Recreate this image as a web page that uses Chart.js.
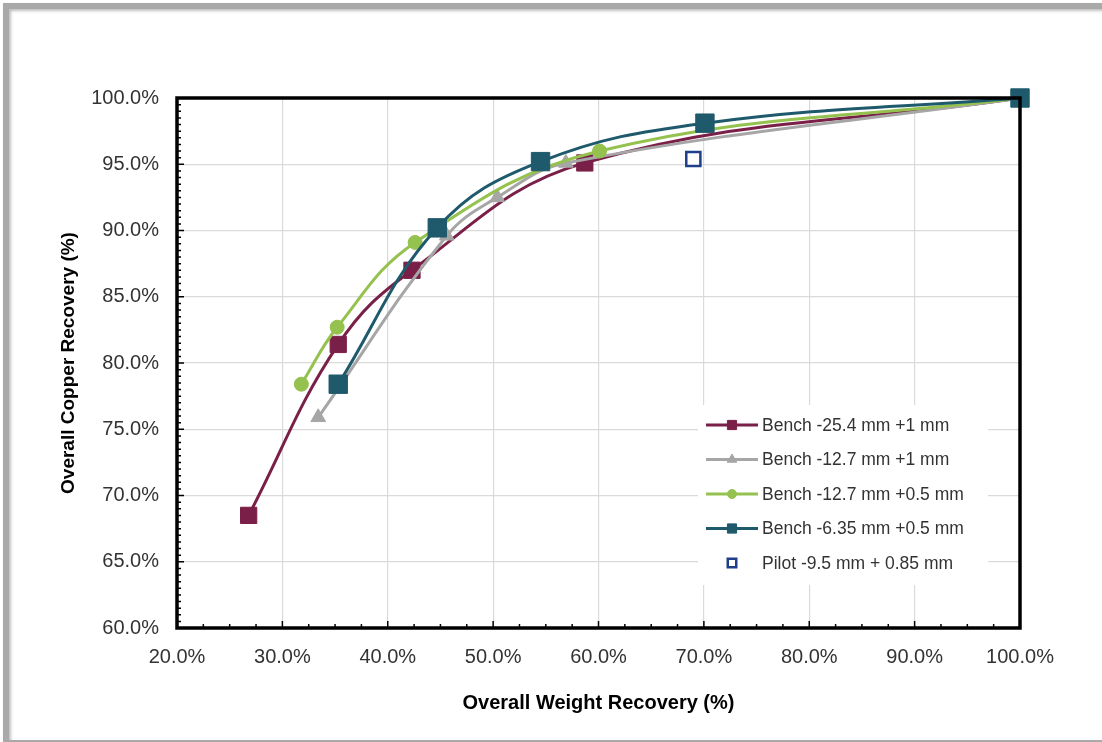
<!DOCTYPE html>
<html>
<head>
<meta charset="utf-8">
<script src="https://cdn.jsdelivr.net/npm/chart.js@4.4.1/dist/chart.umd.min.js"></script>
<style>
  html, body { margin: 0; padding: 0; background: #fff; }
  #wrap { position: relative; width: 1102px; height: 742px; overflow: hidden; }
  #recovery-chart { position: absolute; left: 0; top: 0; }
  #frame {
    position: absolute; left: 3px; top: 3px; width: 1120px; height: 731px;
    border: 6px solid #a9a9a9; box-shadow: inset 2px 2px 3px rgba(0,0,0,0.25), 1px 1px 2px rgba(0,0,0,0.3);
    pointer-events: none;
  }
</style>
</head>
<body>
<div id="wrap">
  <canvas id="recovery-chart" width="1102" height="742"></canvas>
  <div id="frame"></div>
</div>
<script>
// Weight recovery (%) vs copper recovery (%) per test series
const seriesNames = [
    'Bench -25.4 mm +1 mm',
    'Bench -12.7 mm +1 mm',
    'Bench -12.7 mm +0.5 mm',
    'Bench -6.35 mm +0.5 mm',
    'Pilot -9.5 mm + 0.85 mm'
];
const bench254Weight = [26.8, 35.3, 42.3, 58.7, 100];
const bench254Copper = [68.5, 81.4, 87.0, 95.1, 100];
const bench127Weight = [33.4, 45.6, 50.4, 56.9, 100];
const bench127Copper = [75.9, 89.6, 92.5, 95.1, 100];
const bench127fWeight = [31.8, 35.2, 42.6, 60.1, 100];
const bench127fCopper = [78.4, 82.7, 89.1, 96.0, 100];
const bench635Weight = [35.3, 44.7, 54.5, 70.1, 100];
const bench635Copper = [78.4, 90.2, 95.2, 98.1, 100];
const pilotWeight = [69.0];
const pilotCopper = [95.4];

const xTicks = [20, 30, 40, 50, 60, 70, 80, 90, 100];
const yTicks = [60, 65, 70, 75, 80, 85, 90, 95, 100];

function toPoints(xs, ys) {
    return xs.map((x, i) => ({ x: x, y: ys[i] }));
}

const pct = v => v.toFixed(1) + '%';
const fontFamily = '"Liberation Sans", Arial, sans-serif';

// thick border around the plot area plus inward minor/major tick marks
const plotFrame = {
    id: 'plotFrame',
    afterDatasetsDraw(chart) {
        const { ctx, chartArea: a, scales } = chart;
        ctx.save();
        ctx.strokeStyle = '#000';
        ctx.lineWidth = 1.5;
        ctx.beginPath();
        for (let v = 20; v <= 100.01; v += 2.5) {
            const px = scales.x.getPixelForValue(v);
            const len = (Math.abs(v % 10) < 0.01) ? 7 : 4;
            ctx.moveTo(px, a.bottom);
            ctx.lineTo(px, a.bottom - len);
        }
        for (let v = 60; v <= 100.01; v += 0.5) {
            const py = scales.y.getPixelForValue(v);
            const len = (Math.abs(v % 5) < 0.01) ? 7 : 4;
            ctx.moveTo(a.left, py);
            ctx.lineTo(a.left + len, py);
        }
        ctx.stroke();
        ctx.lineWidth = 3.5;
        ctx.strokeRect(a.left, a.top, a.right - a.left, a.bottom - a.top);
        ctx.restore();
    },
    afterDraw(chart) {
        // legend box sitting inside the plot
        const { ctx, chartArea: a } = chart;
        const left = a.left + 529, top = a.top + 307;
        ctx.save();
        ctx.fillStyle = '#fff';
        ctx.fillRect(left - 8, top, 290, 180);
        chart.data.datasets.forEach((ds, i) => {
            const y = top + 20 + i * 34.5;
            if (ds.showLine) {
                ctx.strokeStyle = ds.borderColor;
                ctx.lineWidth = 3;
                ctx.beginPath();
                ctx.moveTo(left, y);
                ctx.lineTo(left + 52, y);
                ctx.stroke();
            }
            ctx.fillStyle = ds.pointBackgroundColor;
            ctx.strokeStyle = ds.pointBorderColor;
            ctx.lineWidth = ds.pointBorderWidth;
            Chart.helpers.drawPoint(ctx, {
                pointStyle: ds.pointStyle,
                radius: ds.legendRadius,
                rotation: 0,
                borderWidth: ds.pointBorderWidth
            }, left + 26, y);
            ctx.fillStyle = '#333';
            ctx.font = '17.5px ' + fontFamily;
            ctx.textBaseline = 'middle';
            ctx.textAlign = 'left';
            ctx.fillText(ds.label, left + 56, y + 1);
        });
        ctx.restore();
    }
};

function benchSeries(label, xs, ys, color, style, radius, legendRadius, order) {
    return {
        label: label,
        data: toPoints(xs, ys),
        showLine: true,
        tension: 0.4,
        borderColor: color,
        borderWidth: 3,
        pointStyle: style,
        pointRadius: radius,
        pointHoverRadius: radius,
        pointBackgroundColor: color,
        pointBorderColor: color,
        pointBorderWidth: 1,
        legendRadius: legendRadius,
        clip: false,
        order: order
    };
}

const datasets = [
    benchSeries(seriesNames[0], bench254Weight, bench254Copper, '#7a1f47', 'rect', 11.5, 6.5, 4),
    benchSeries(seriesNames[1], bench127Weight, bench127Copper, '#a6a6a6', 'triangle', 8.5, 5.5, 3),
    benchSeries(seriesNames[2], bench127fWeight, bench127fCopper, '#95c14f', 'circle', 7, 4.5, 2),
    benchSeries(seriesNames[3], bench635Weight, bench635Copper, '#1e5a6b', 'rect', 13, 6.5, 1),
    {
        label: seriesNames[4],
        data: toPoints(pilotWeight, pilotCopper),
        showLine: false,
        pointStyle: 'rect',
        pointRadius: 10,
        pointBackgroundColor: '#fff',
        pointBorderColor: '#1f3f8c',
        pointBorderWidth: 2.5,
        legendRadius: 6,
        clip: false,
        order: 0
    }
];

new Chart(document.getElementById('recovery-chart'), {
    type: 'scatter',
    data: { datasets: datasets },
    plugins: [plotFrame],
    options: {
        responsive: false,
        animation: false,
        layout: { padding: { left: 0, top: 98, right: 82, bottom: 0 } },
        plugins: { legend: { display: false }, tooltip: { enabled: false } },
        scales: {
            x: {
                type: 'linear',
                min: 20, max: 100,
                afterBuildTicks: s => { s.ticks = xTicks.map(v => ({ value: v })); },
                afterFit: s => { s.height = 114; },
                grid: { color: '#dadada', lineWidth: 1.2, drawTicks: false },
                border: { display: false },
                ticks: {
                    callback: pct, padding: 17, maxRotation: 0,
                    color: '#333', font: { family: fontFamily, size: 20 }
                },
                title: {
                    display: true, text: 'Overall Weight Recovery (%)', color: '#000',
                    padding: { top: 10, bottom: 27 },
                    font: { family: fontFamily, size: 20, weight: 'bold' }
                }
            },
            y: {
                type: 'linear',
                min: 60, max: 100,
                afterBuildTicks: s => { s.ticks = yTicks.map(v => ({ value: v })); },
                afterFit: s => { s.width = 177; },
                grid: { color: '#dadada', lineWidth: 1.2, drawTicks: false },
                border: { display: false },
                ticks: {
                    callback: pct, padding: 18,
                    color: '#333', font: { family: fontFamily, size: 20 }
                },
                title: {
                    display: true, text: 'Overall Copper Recovery (%)', color: '#000',
                    padding: { top: 57, bottom: 0 },
                    font: { family: fontFamily, size: 19, weight: 'bold' }
                }
            }
        }
    }
});
</script>
</body>
</html>
